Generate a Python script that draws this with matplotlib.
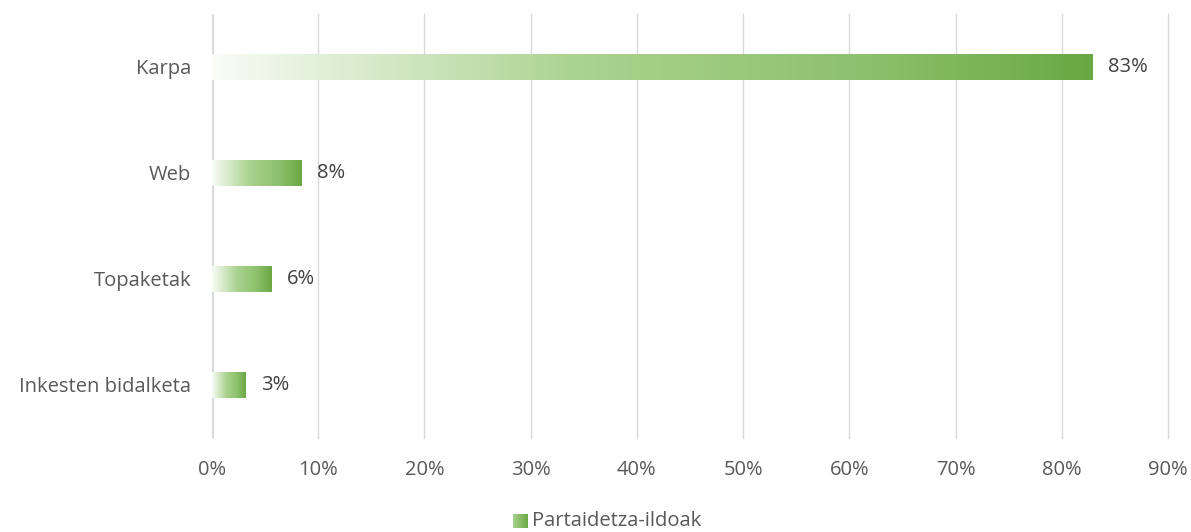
import numpy as np
import matplotlib.pyplot as plt
from matplotlib.colors import LinearSegmentedColormap

plt.rcParams['font.family'] = ['Open Sans', 'DejaVu Sans']

categories = ['Karpa', 'Web', 'Topaketak', 'Inkesten bidalketa']
values = [82.9, 8.4, 5.6, 3.2]
labels = ['83%', '8%', '6%', '3%']
xticks = [0, 10, 20, 30, 40, 50, 60, 70, 80, 90]
series_name = 'Partaidetza-ildoak'

cmap = LinearSegmentedColormap.from_list(
    'grn', [(0, '#f9fcf7'), (0.2, '#d3e8c5'), (0.42, '#aad38f'),
            (0.75, '#8cc06b'), (1, '#6aa843')])
grad = np.linspace(0, 1, 256).reshape(1, -1)

fig = plt.figure(figsize=(11.91, 5.32), dpi=100)
ax = fig.add_axes([0.178, 0.177, 0.8027, 0.797])

fs = 14.5
bar_h = 0.245
for i, v in enumerate(values):
    ax.imshow(grad, cmap=cmap, aspect='auto', zorder=3,
              extent=[0, v, i + bar_h / 2, i - bar_h / 2])
    ax.annotate(labels[i], (v, i), xytext=(11, 0), textcoords='offset points',
                va='center', ha='left', fontsize=fs, color='#404040')

ax.set_xlim(0, 90)
ax.set_ylim(3.5, -0.5)
ax.set_xticks(xticks)
ax.set_xticklabels([f'{t}%' for t in xticks])
ax.set_yticks(range(len(categories)))
ax.set_yticklabels(categories)
ax.tick_params(length=0, labelsize=fs, colors='#595959')
ax.tick_params(axis='x', pad=16)
ax.tick_params(axis='y', pad=15)

for t in xticks[1:]:
    ax.axvline(t, color='#d9d9d9', lw=1.0, zorder=1, clip_on=False)
ax.axvline(0, color='#d9d9d9', lw=3.0, zorder=2)
for s in ax.spines.values():
    s.set_visible(False)

# legend
lx, ly, lw, lh = 0.431, 0.008, 0.0118, 0.025
lax = fig.add_axes([lx, ly, lw, lh])
lax.imshow(grad, cmap=LinearSegmentedColormap.from_list('l', ['#a9d18e', '#6aa843']),
           aspect='auto')
lax.axis('off')
fig.text(lx + lw + 0.0035, ly + lh / 2, series_name, va='center', ha='left',
         fontsize=fs, color='#595959')

fig.savefig('out.png', dpi=100)
